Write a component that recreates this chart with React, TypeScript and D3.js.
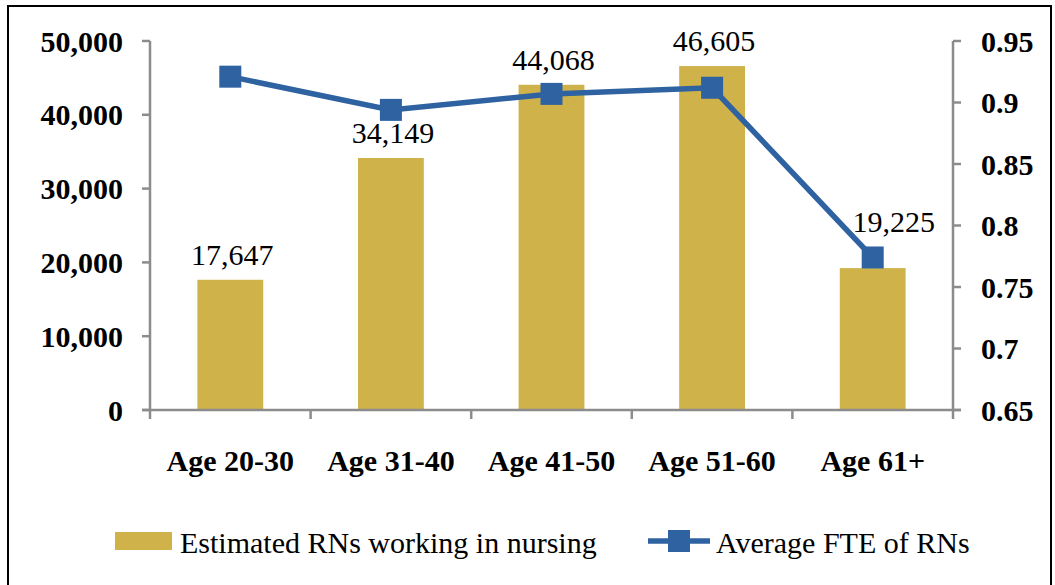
import React from "react";
import * as d3 from "d3";

// chart data
const categories = ["Age 20-30", "Age 31-40", "Age 41-50", "Age 51-60", "Age 61+"];
const rnCounts = [17647, 34149, 44068, 46605, 19225];
const avgFte = [0.921, 0.894, 0.907, 0.912, 0.774];
const leftTicks = [0, 10000, 20000, 30000, 40000, 50000];
const rightTicks = [0.65, 0.7, 0.75, 0.8, 0.85, 0.9, 0.95];
const barName = "Estimated RNs working in nursing";
const lineName = "Average FTE of RNs";

const W = 1055;
const H = 585;
const margin = { left: 150, right: 102, top: 41, bottom: 175 };
const barColor = "#D0B24B";
const lineColor = "#2E62A1";
const axisColor = "#8C8C8C";
const font = "'Times New Roman', 'Liberation Serif', serif";

const App = () => {
  const x = d3
    .scaleBand()
    .domain(categories)
    .range([margin.left, W - margin.right])
    .paddingInner(0.59)
    .paddingOuter(0.295);
  const yLeft = d3.scaleLinear().domain([0, 50000]).range([H - margin.bottom, margin.top]);
  const yRight = d3.scaleLinear().domain([0.65, 0.95]).range([H - margin.bottom, margin.top]);
  const x0 = margin.left;
  const x1 = W - margin.right;
  const yBase = H - margin.bottom;
  const cx = (c: string) => (x(c) as number) + x.bandwidth() / 2;

  const line = d3
    .line<number>()
    .x((_, i) => cx(categories[i]))
    .y(d => yRight(d));

  const fmt = d3.format(",");
  const boundaries = d3.range(categories.length + 1).map(i => x0 + i * ((x1 - x0) / categories.length));

  // the last data label sits up and to the right of its bar, clear of the marker
  const labelPos = (v: number, i: number) =>
    i === rnCounts.length - 1
      ? { x: cx(categories[i]) + 21, y: yLeft(v) - 36 }
      : { x: cx(categories[i]) + 2, y: yLeft(v) - 15 };

  return (
    <svg width={W} height={H} style={{ position: "absolute", left: 0, top: 0, background: "#fff" }}>
      <rect x={8} y={6} width={1043} height={600} fill="#fff" stroke="#000" strokeWidth={2} />

      {/* bars */}
      {rnCounts.map((v, i) => (
        <rect
          key={categories[i]}
          x={x(categories[i])}
          y={yLeft(v)}
          width={x.bandwidth()}
          height={yBase - yLeft(v)}
          fill={barColor}
        />
      ))}

      {/* axes */}
      <g stroke={axisColor} strokeWidth={2.5} fill="none">
        <line x1={x0} x2={x0} y1={margin.top} y2={yBase} />
        <line x1={x1} x2={x1} y1={margin.top} y2={yBase} />
        <line x1={x0 - 8} x2={x1 + 8} y1={yBase} y2={yBase} />
        {leftTicks.map(t => (
          <line key={t} x1={x0 - 8} x2={x0} y1={yLeft(t)} y2={yLeft(t)} />
        ))}
        {rightTicks.map(t => (
          <line key={t} x1={x1} x2={x1 + 8} y1={yRight(t)} y2={yRight(t)} />
        ))}
        {boundaries.map(b => (
          <line key={b} x1={b} x2={b} y1={yBase} y2={yBase + 9} />
        ))}
      </g>

      <g fontFamily={font} fontWeight="bold" fontSize={30} fill="#000">
        {leftTicks.map(t => (
          <text key={t} x={x0 - 27} y={yLeft(t)} dy="0.35em" textAnchor="end">
            {fmt(t)}
          </text>
        ))}
        {rightTicks.map(t => (
          <text key={t} x={x1 + 28} y={yRight(t)} dy="0.35em" textAnchor="start">
            {String(t)}
          </text>
        ))}
        {categories.map(c => (
          <text key={c} x={cx(c)} y={yBase + 61} textAnchor="middle">
            {c}
          </text>
        ))}
      </g>

      {/* data labels */}
      <g fontFamily={font} fontSize={30} fill="#000">
        {rnCounts.map((v, i) => {
          const p = labelPos(v, i);
          return (
            <text key={i} x={p.x} y={p.y} textAnchor="middle">
              {fmt(v)}
            </text>
          );
        })}
      </g>

      {/* FTE line */}
      <path d={line(avgFte) || ""} fill="none" stroke={lineColor} strokeWidth={5.5} />
      {avgFte.map((v, i) => (
        <rect
          key={i}
          x={cx(categories[i]) - 11}
          y={yRight(v) - 11}
          width={22}
          height={22}
          fill={lineColor}
        />
      ))}

      {/* legend */}
      <g fontFamily={font} fontSize={30} fill="#000">
        <rect x={115} y={532} width={57} height={18} fill={barColor} />
        <text x={180} y={553}>{barName}</text>
        <line x1={648} x2={710} y1={541} y2={541} stroke={lineColor} strokeWidth={5.5} />
        <rect x={668} y={530} width={22} height={22} fill={lineColor} />
        <text x={716} y={553}>{lineName}</text>
      </g>
    </svg>
  );
};

export default App;
